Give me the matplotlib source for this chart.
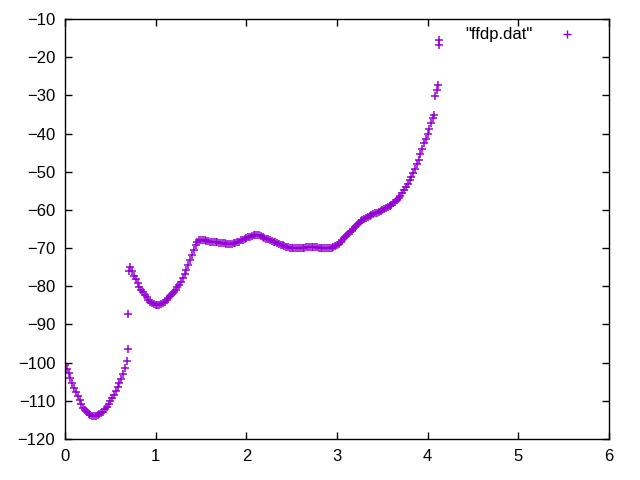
import numpy as np
import matplotlib
matplotlib.use('Agg')
import matplotlib.pyplot as plt

x_left = np.round(np.arange(0.0, 0.681, 0.02), 2)
y_left = [-100.5, -101.6, -102.8, -104.0, -105.3, -106.6, -107.7, -108.8,
          -109.9, -110.9, -111.8, -112.5, -113.0, -113.4, -113.7, -113.9,
          -114.0, -113.9, -113.7, -113.5, -113.2, -112.8, -112.2, -111.5,
          -110.8, -110.0, -109.2, -108.4, -107.5, -106.5, -105.4, -104.3,
          -103.0, -101.5, -99.6]

# isolated points around the jump
x_jump = [0.69, 0.70, 0.71, 0.72]
y_jump = [-96.3, -87.3, -76.0, -74.9]

x_right = np.round(np.arange(0.74, 4.061, 0.02), 2)
y_right = [-76.1, -77.2, -78.2, -79.2, -80.1, -80.9, -81.6, -82.3, -82.9, -83.5,
           -84.0, -84.4, -84.7, -84.9, -85.0, -84.9, -84.7, -84.4, -84.0, -83.6,
           -83.1, -82.6, -82.0, -81.6, -81.0, -80.3, -79.6, -78.8, -77.9, -76.8,
           -75.7, -74.4, -73.1, -71.8, -70.5, -69.2, -68.3, -67.8, -67.8, -67.9,
           -68.0, -68.1, -68.2, -68.3, -68.3, -68.4, -68.4, -68.5, -68.6, -68.6,
           -68.7, -68.7, -68.8, -68.9, -68.9, -68.8, -68.7, -68.6, -68.4, -68.3,
           -68.0, -67.8, -67.6, -67.4, -67.2, -67.0, -66.8, -66.7, -66.6, -66.6,
           -66.7, -66.9, -67.1, -67.3, -67.5, -67.7, -67.9, -68.1, -68.3, -68.5,
           -68.7, -68.9, -69.1, -69.3, -69.5, -69.7, -69.8, -69.9, -70.0, -70.1,
           -70.1, -70.1, -70.1, -70.0, -70.0, -69.9, -69.8, -69.7, -69.6, -69.6,
           -69.6, -69.7, -69.8, -69.9, -70.0, -70.1, -70.1, -70.1, -70.1, -70.0,
           -69.9, -69.7, -69.5, -69.2, -68.8, -68.4, -67.9, -67.4, -66.9, -66.4,
           -65.9, -65.4, -64.9, -64.4, -63.9, -63.4, -63.0, -62.6, -62.3, -62.0,
           -61.8, -61.5, -61.3, -61.1, -60.9, -60.7, -60.5, -60.2, -60.0, -59.8,
           -59.5, -59.2, -58.9, -58.6, -58.3, -57.9, -57.4, -56.9, -56.3, -55.7,
           -54.9, -54.0, -53.1, -52.2, -51.3, -50.3, -49.2, -48.0, -46.8, -45.4,
           -44.0, -42.6, -41.3, -40.0, -38.7, -37.3, -35.8]

# sparse points at the steep end
x_tail = [4.07, 4.086, 4.10, 4.115, 4.13, 4.13]
y_tail = [-35.1, -30.1, -28.6, -27.3, -16.8, -15.5]

x = np.concatenate([x_left, x_jump, x_right, x_tail])
y = np.concatenate([y_left, y_jump, y_right, y_tail])

plt.rcParams['font.family'] = ['Liberation Sans', 'DejaVu Sans']
plt.rcParams['font.size'] = 12

col = '#9400d3'
fig = plt.figure(figsize=(6.4, 4.8), dpi=100)
ax = fig.add_axes([65/640, 41/480, 544/640, 420/480])

ax.plot(x, y, linestyle='none', marker='+', markersize=6, markeredgewidth=1.1,
        color=col)

# gnuplot style key, top right
ax.text(0.8585, 0.964, '"ffdp.dat"', transform=ax.transAxes, ha='right',
        va='center', fontsize=12)
ax.plot([0.9228], [0.964], linestyle='none', marker='+', markersize=5.2,
        markeredgewidth=1.0, color=col, transform=ax.transAxes, clip_on=False)

ax.set_xlim(0, 6)
ax.set_ylim(-120, -10)
ax.set_xticks(range(0, 7))
ax.set_yticks(range(-120, -9, 10))
ax.tick_params(direction='in', length=5, width=1, top=True, right=True,
               labelsize=12, pad=7)
for s in ax.spines.values():
    s.set_linewidth(1)

fig.savefig('out.png', dpi=100)
